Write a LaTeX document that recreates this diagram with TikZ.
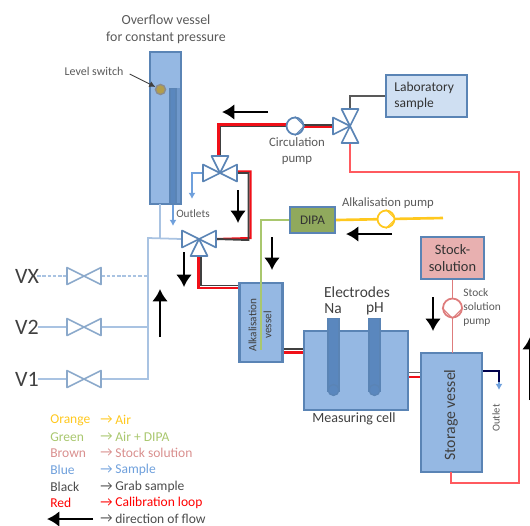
\documentclass[tikz,border=0pt]{standalone}
\usepackage{fontspec}
\setmainfont{Carlito}
\usetikzlibrary{arrows.meta}

\definecolor{vesselblue}{HTML}{95B8E3}
\definecolor{tubeblue}{HTML}{5A87BE}
\definecolor{edgeblue}{HTML}{5A84B5}
\definecolor{pipeblue}{HTML}{A9C3E2}
\definecolor{outblue}{HTML}{6FA0DC}
\definecolor{pipered}{HTML}{FF5A5F}
\definecolor{deepred}{HTML}{F01018}
\definecolor{pipegreen}{HTML}{A9C76E}
\definecolor{pipeyellow}{HTML}{FFC81E}
\definecolor{pipebrown}{HTML}{DE7C7C}
\definecolor{legbrown}{HTML}{D98F8E}

\tikzset{
    vessel/.style={draw=edgeblue,fill=vesselblue,line width=1.2pt,inner sep=0pt,text=black!80},
    tube/.style={draw=edgeblue,fill=tubeblue,line width=.7pt},
    valvehub/.style={inner sep=0pt,minimum size=.68cm},
    valveline/.style={draw=edgeblue,fill=white,line width=.9pt,line join=round},
    pumpbody/.style={circle,fill=white,line width=1pt,minimum size=.34cm,inner sep=0pt},
    bluepipe/.style={draw=pipeblue,line width=1pt},
    outpipe/.style={draw=outblue,line width=.7pt,-{Latex[length=3.5pt,width=4pt]}},
    redpipe/.style={draw=deepred,line width=1.2pt},
    blackpipe/.style={draw=black!75,line width=1.1pt},
    flow/.style={draw=black,line width=1.6pt,-{Latex[length=7pt,width=9pt]}},
    label/.style={inner sep=0pt,text=black!65,font=\fontsize{7.2}{9}\selectfont,align=center},
    big/.style={inner sep=0pt,text=black!75,font=\fontsize{8.8}{9.8}\selectfont,align=center},
    legend/.style={inner sep=0pt,anchor=west,font=\fontsize{7.7}{9}\selectfont},
}
\newcommand{\valvearm}[2]{\draw[valveline,shift={#1},rotate=#2] (0,0) -- (17,8.5) -- (17,-8.5) -- cycle;}

\begin{document}
\begin{tikzpicture}[x=.02cm,y=-.02cm]
    \useasboundingbox (0,0) rectangle (530,525);

    % hubs of the valves
    \node[valvehub] (VA) at (220,173) {};
    \node[valvehub] (VB) at (199,239) {};
    \node[valvehub] (VC) at (350,126) {};
    \node[valvehub] (VX) at (84,276) {};
    \node[valvehub] (V2) at (84,327) {};
    \node[valvehub] (V1) at (84,379) {};

    \coordinate (Lin) at (37,276);
    \coordinate (Lmid) at (38,327);
    \coordinate (Llow) at (38,379);
    \coordinate (Main) at (148,238);
    \coordinate (OutA) at (192,199);
    \coordinate (OutB) at (173,226);
    \coordinate (OutC) at (499,390);
    \coordinate (AirEnd) at (443,218);

    % vessels
    \node[vessel,minimum width=.62cm,minimum height=3.04cm] (OV) at (165.5,128) {};
    \fill[tubeblue!65!vesselblue] (169,88) rectangle (180.5,203.5);
    \draw[edgeblue,line width=1.2pt] (150,52) rectangle (181,204);
    \node[vessel,fill=vesselblue!45!white,minimum width=1.62cm,minimum height=.84cm] (LS) at (426.5,96) {};
    \node[vessel,fill=pipegreen!85!black,minimum width=.9cm,minimum height=.52cm,font=\fontsize{7.5}{9}\selectfont] (DIPA) at (312.5,220) {DIPA};
    \node[vessel,fill=red!55!gray!40!white,minimum width=1.26cm,minimum height=.84cm,align=center,font=\fontsize{8.2}{9.6}\selectfont] (SS) at (452.5,258) {Stock-\\solution};
    \node[vessel,minimum width=.86cm,minimum height=1.58cm] (AV) at (261,322.5) {};
    \node[vessel,minimum width=2.08cm,minimum height=1.58cm] (MC) at (356,370.5) {};
    \node[vessel,minimum width=1.22cm,minimum height=2.38cm] (SV) at (451.5,412.5) {};

    % blue sample lines
    \draw[bluepipe] (Llow) -- (V1.west);
    \draw[bluepipe] (Lmid) -- (V2.west);
    \draw[bluepipe,dashed,dash pattern=on 2pt off 1pt] (Lin) -- (VX.west);
    \draw[bluepipe,dashed,dash pattern=on 2pt off 1pt] (VX.east) -- (Main |- VX.east);
    \draw[bluepipe] (V2.east) -- (Main |- V2.east);
    \draw[bluepipe] (V1.east) -| (Main) -- (VB.west);
    \draw[bluepipe] (160,204) -- (160,238);
    \draw[outpipe] (VA.west) -| (OutA);
    \draw[outpipe] (OutB |- OV.south) -- (OutB);

    % calibration and grab sample lines, red beside black
    \draw[redpipe] (295,124.5) -- (218.5,124.5) -- (218.5,156);
    \draw[blackpipe] (295,126.5) -- (220.5,126.5) -- (220.5,156);
    \draw[redpipe] (VC.west) ++(0,1) -- (295,127);
    \draw[blackpipe] (VC.west) ++(0,-1) -- (295,125);
    \draw[redpipe] (VA.east) ++(0,-1.5) -- (250.5,171.5) -- (250.5,238) -- (VB.east);
    \draw[blackpipe] (VA.east) ++(0,0) -- (248.5,173) -- (248.5,240) -- (VB.east);
    \draw[redpipe] (198.5,256) -- (198.5,288) -- (AV.west |- 0,288);
    \draw[blackpipe] (201,256) -- (201,285.5) -- (AV.west |- 0,285.5);
    \draw[redpipe] (AV.east |- 0,352.5) -- (MC.west |- 0,352.5);
    \draw[blackpipe] (AV.east |- 0,349) -- (MC.west |- 0,349);
    \draw[redpipe] (MC.east |- 0,377) -- (SV.west |- 0,377);
    \draw[blackpipe,draw=black!60] (MC.east |- 0,372.5) -- (SV.west |- 0,372.5);
    \draw[draw=black!65,line width=.9pt] (VC.north) |- (LS.west);
    \draw[draw=pipered,line width=1.3pt] (VC.south) |- (519,172) -- (519,483) -- (451,483) -- (451,472);
    \draw[draw=pipegreen,line width=1.5pt] (DIPA.west) -- (261,220) -- (261,350);
    \draw[draw=pipeyellow,line width=1.5pt] (DIPA.east) -- (AirEnd);
    \draw[draw=pipebrown,line width=1.1pt] (SS.south) -- (452.5,353);
    \draw[draw=black!70!blue,line width=.9pt] (SV.east |- 0,371) -| (499,382);
    \draw[outpipe] (499,382) -- (OutC);

    % valves
    \foreach \a in {0,90,180} {\valvearm{(VA)}{\a}}
    \foreach \a in {0,180,270} {\valvearm{(VB)}{\a}}
    \foreach \a in {90,180,270} {\valvearm{(VC)}{\a}}
    \begin{scope}[valveline/.append style={draw=edgeblue!70!white}]
        \foreach \v in {VX,V2,V1} {
            \foreach \a in {0,180} {\valvearm{(\v)}{\a}}
        }
    \end{scope}

    % pumps
    \node[pumpbody,draw=edgeblue] (CP) at (295,126) {};
    \node[pumpbody,draw=pipeyellow] (AP) at (386,219) {};
    \node[pumpbody,draw=pipebrown,minimum size=.38cm] (SP) at (452.5,308) {};
    \draw[edgeblue,line width=.6pt] (CP.north) -- (CP.east) -- (CP.south);
    \draw[pipeyellow,line width=.6pt] (AP.north) -- (AP.east) -- (AP.south);
    \draw[pipebrown,line width=.6pt] (SP.west) -- (SP.south) -- (SP.east);

    % overflow vessel inside
    \node[tube,minimum width=.12cm,minimum height=2.3cm,inner sep=0pt] (OT) at (173,146) {};
    \node[circle,draw=black!45,fill=black!40!yellow!60!brown,line width=.8pt,minimum size=.2cm,inner sep=0pt] (SW) at (160.5,89.5) {};

    % electrodes
    \foreach \x/\n in {333.5/EN,374.5/EP} {
        \node[tube,minimum width=.22cm,minimum height=1.46cm,inner sep=0pt] (\n) at (\x,355) {};
        \node[circle,tube,minimum size=.22cm,inner sep=0pt] at (\x,390) {};
    }

    % texts
    \node[label,font=\fontsize{7.9}{9.7}\selectfont] (Tover) at (166,29) {Overflow vessel\\for constant pressure};
    \node[label,font=\fontsize{6.8}{9}\selectfont] (Tswitch) at (94,71) {Level switch};
    \draw[-{Latex[length=3.5pt,width=3.5pt]},black!75,line width=.5pt] (Tswitch.east) ++(6,3) -- (SW);
    \node[label,font=\fontsize{6.4}{9}\selectfont] (Tout) at (193,214) {Outlets};
    \node[label,anchor=north,font=\fontsize{7.3}{9}\selectfont] (Tcirc) at (297,137) {Circulation\\pump};
    \node[label] (Talk) at (388,203) {Alkalisation pump};
    \node[label,font=\fontsize{6.5}{8}\selectfont,align=left,anchor=west] (Tstock) at (463,307) {Stock\\solution\\pump};
    \node[big,anchor=west,text=black!80,align=left,text width=1.3cm,font=\fontsize{7.7}{9.4}\selectfont] (Tlab) at (394,96) {Laboratory\\sample};
    \node[big] (Tel) at (357,292) {Electrodes};
    \node[big] (Tna) at (333,309) {Na};
    \node[big] (Tph) at (375,309) {pH};
    \node[big,font=\fontsize{8}{9}\selectfont] (Tcell) at (354,419) {Measuring cell};
    \node[big,rotate=90,font=\fontsize{9}{10}\selectfont] (Tsv) at (451,415) {Storage vessel};
    \node[big,rotate=90,font=\fontsize{6.4}{8.6}\selectfont] (Tav) at (260,325) {Alkalisation\\vessel};
    \node[label,rotate=90,font=\fontsize{6}{8}\selectfont] (Tol) at (496,418) {Outlet};
    \node[big,font=\fontsize{12.5}{13}\selectfont] (TX) at (27,276) {VX};
    \node[big,font=\fontsize{12.5}{13}\selectfont] (T2) at (27,327) {V2};
    \node[big,font=\fontsize{12.5}{13}\selectfont] (T1) at (27,379) {V1};

    % flow arrows
    \coordinate (FAa) at (268,112); \coordinate (FAb) at (222,112);
    \coordinate (FBa) at (238,190); \coordinate (FBb) at (238,223);
    \coordinate (FCa) at (184,252); \coordinate (FCb) at (184,287);
    \coordinate (FDa) at (160,337); \coordinate (FDb) at (160,289);
    \coordinate (FEa) at (392,234); \coordinate (FEb) at (346,234);
    \coordinate (FFa) at (272,237); \coordinate (FFb) at (272,270);
    \coordinate (FGa) at (433,297); \coordinate (FGb) at (433,331);
    \coordinate (FHa) at (530,400); \coordinate (FHb) at (530,337);
    \coordinate (FIa) at (93,519); \coordinate (FIb) at (47,519);
    \foreach \n in {FA,FB,FC,FD,FE,FF,FG,FH,FI} {
        \draw[flow] (\n a) -- (\n b);
    }

    % legend
    \foreach \y/\c/\l/\m in {
        420/pipeyellow/Orange/Air,
        437/pipegreen/Green/Air + DIPA,
        453/legbrown/Brown/Stock solution,
        470/outblue/Blue/Sample,
        487/black!70/Black/Grab sample,
        503/red/Red/Calibration loop} {
        \node[legend,text=\c] at (50,\y) {\l};
        \node[legend,text=\c] at (100,\y) {→};
        \node[legend,text=\c] at (115,\y) {\m};
    }
    \node[legend,text=black!70] (Larrow) at (100,519) {→};
    \node[legend,text=black!70] (Ltext) at (115,519) {direction of flow};
\end{tikzpicture}
\end{document}
